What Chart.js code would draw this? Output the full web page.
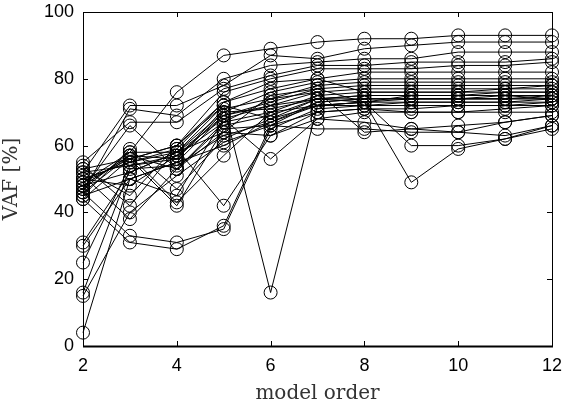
<!DOCTYPE html>
<html>
<head>
<meta charset="utf-8">
<script src="https://cdn.jsdelivr.net/npm/chart.js@4.4.1/dist/chart.umd.min.js"></script>
<style>
  html, body { margin: 0; padding: 0; background: #fff; }
  #wrap { width: 564px; height: 406px; }
</style>
</head>
<body>
<div id="wrap"><canvas id="chart"></canvas></div>
<script>
// model orders on the x axis
const modelOrders = [2, 3, 4, 5, 6, 7, 8, 9, 10, 11, 12];
const xTicks = [2, 4, 6, 8, 10, 12];
const yTicks = [0, 20, 40, 60, 80, 100];

// VAF [%] per run, one list per line
const run01 = [49, 58, 76, 87, 89, 91, 92, 92, 93, 93, 93];
const run02 = [52, 72, 72, 78, 87, 86, 89, 90, 91, 91, 91];
const run03 = [46, 71, 69, 80, 84, 85, 86, 86, 88, 88, 88];
const run04 = [55, 67, 67, 77, 81, 84, 84, 85, 85, 85, 86];
const run05 = [44, 56, 60, 76, 80, 83, 83, 83, 84, 84, 85];
const run06 = [50, 55, 59, 73, 79, 80, 82, 82, 82, 82, 82];
const run07 = [31, 52, 58, 70, 76, 79, 80, 80, 80, 80, 80];
const run08 = [48, 57, 56, 71, 74, 78, 79, 79, 79, 79, 79];
const run09 = [45, 50, 55, 69, 73, 77, 78, 78, 78, 78, 78];
const run10 = [47, 58, 58, 68, 72, 76, 77, 77, 77, 77, 77];
const run11 = [25, 54, 57, 67, 70, 75, 76, 76, 76, 76, 76];
const run12 = [51, 38, 53, 66, 69, 74, 75, 75, 75, 76, 76];
const run13 = [53, 45, 60, 72, 68, 74, 75, 75, 75, 75, 75];
const run14 = [16, 53, 54, 63, 67, 73, 74, 74, 74, 75, 75];
const run15 = [49, 56, 42, 65, 66, 73, 74, 74, 74, 74, 74];
const run16 = [45, 59, 47, 62, 68, 72, 73, 74, 74, 74, 74];
const run17 = [4, 50, 55, 60, 67, 72, 73, 73, 73, 73, 74];
const run18 = [48, 57, 43, 57, 70, 72, 72, 73, 73, 73, 73];
const run19 = [46, 33, 31, 35, 65, 71, 72, 72, 72, 72, 73];
const run20 = [44, 31, 29, 36, 66, 70, 71, 71, 72, 72, 72];
const run21 = [54, 42, 59, 42, 63, 70, 71, 70, 70, 71, 72];
const run22 = [50, 55, 58, 72, 16, 72, 73, 75, 75, 75, 74];
const run23 = [30, 50, 45, 68, 56, 68, 70, 70, 70, 70, 70];
const run24 = [47, 66, 53, 64, 63, 68, 67, 65, 66, 67, 69];
const run25 = [15, 40, 51, 61, 66, 65, 65, 64, 64, 63, 66];
const run26 = [52, 54, 56, 70, 71, 74, 73, 49, 59, 62, 65];
const run27 = [48, 52, 58, 64, 75, 77, 73, 60, 60, 62, 66];
const run28 = [46, 57, 53, 67, 74, 76, 64, 65, 64, 67, 69];
const run29 = [53, 56, 60, 73, 77, 80, 76, 76, 76, 77, 78];
const run30 = [50, 48, 57, 69, 72, 74, 74, 74, 74, 74, 75];

const runs = [run01, run02, run03, run04, run05, run06, run07, run08, run09, run10,
              run11, run12, run13, run14, run15, run16, run17, run18, run19, run20,
              run21, run22, run23, run24, run25, run26, run27, run28, run29, run30];

const datasets = runs.map(function(vals) {
    return {
        data: vals.map(function(v, i) { return { x: modelOrders[i], y: v }; }),
        borderColor: '#000',
        borderWidth: 1,
        pointRadius: 6.5,
        pointBorderWidth: 1,
        pointBorderColor: '#000',
        pointBackgroundColor: 'rgba(0,0,0,0)',
        pointStyle: 'circle',
        fill: false,
        clip: false,
        tension: 0
    };
});

// box around the plot + inward ticks (matlab look)
const boxPlugin = {
    id: 'boxPlugin',
    afterDraw: function(chart) {
        const ctx = chart.ctx;
        const a = chart.chartArea;
        const xs = chart.scales.x;
        const ys = chart.scales.y;
        ctx.save();
        ctx.strokeStyle = '#000';
        ctx.lineWidth = 1;
        ctx.strokeRect(a.left + 0.5, a.top + 0.5, a.right - a.left, a.bottom - a.top);
        ctx.beginPath();
        xTicks.forEach(function(t) {
            const px = Math.round(xs.getPixelForValue(t)) + 0.5;
            ctx.moveTo(px, a.bottom); ctx.lineTo(px, a.bottom - 5);
            ctx.moveTo(px, a.top); ctx.lineTo(px, a.top + 5);
        });
        yTicks.forEach(function(t) {
            const py = Math.round(ys.getPixelForValue(t)) + 0.5;
            ctx.moveTo(a.left, py); ctx.lineTo(a.left + 5, py);
            ctx.moveTo(a.right, py); ctx.lineTo(a.right - 5, py);
        });
        ctx.stroke();
        // heavier bottom axis line
        ctx.lineWidth = 2;
        ctx.beginPath();
        ctx.moveTo(a.left, a.bottom + 0.5); ctx.lineTo(a.right + 1, a.bottom + 0.5);
        ctx.stroke();
        ctx.restore();
    }
};

const tickFont = { family: 'Liberation Sans, Arial, sans-serif', size: 18 };
const titleFont = { family: 'DejaVu Serif, serif', size: 20 };

new Chart(document.getElementById('chart').getContext('2d'), {
    type: 'line',
    data: { datasets: datasets },
    options: {
        responsive: true,
        maintainAspectRatio: false,
        animation: false,
        layout: { autoPadding: false, padding: { left: 0, right: 12, top: 12, bottom: 0 } },
        plugins: {
            legend: { display: false },
            tooltip: { enabled: false }
        },
        scales: {
            x: {
                type: 'linear',
                min: 2,
                max: 12,
                grid: { display: false, drawTicks: false },
                border: { display: false },
                afterBuildTicks: function(scale) {
                    scale.ticks = xTicks.map(function(v) { return { value: v }; });
                },
                afterFit: function(scale) {
                    scale.height = 60;
                    scale.paddingLeft = 0;
                    scale.paddingRight = 0;
                },
                ticks: { color: '#000', font: tickFont, padding: 9, maxRotation: 0 },
                title: { display: true, text: 'model order', color: '#333', font: titleFont, padding: { top: 0, bottom: 0 } }
            },
            y: {
                min: 0,
                max: 100,
                grid: { display: false, drawTicks: false },
                border: { display: false },
                afterBuildTicks: function(scale) {
                    scale.ticks = yTicks.map(function(v) { return { value: v }; });
                },
                afterFit: function(scale) {
                    scale.width = 83;
                    scale.paddingTop = 0;
                    scale.paddingBottom = 0;
                },
                ticks: { color: '#000', font: tickFont, padding: 9 },
                title: { display: true, text: 'VAF [%]', color: '#333', font: titleFont, padding: { top: 0, bottom: 0 } }
            }
        }
    },
    plugins: [boxPlugin]
});
</script>
</body>
</html>
